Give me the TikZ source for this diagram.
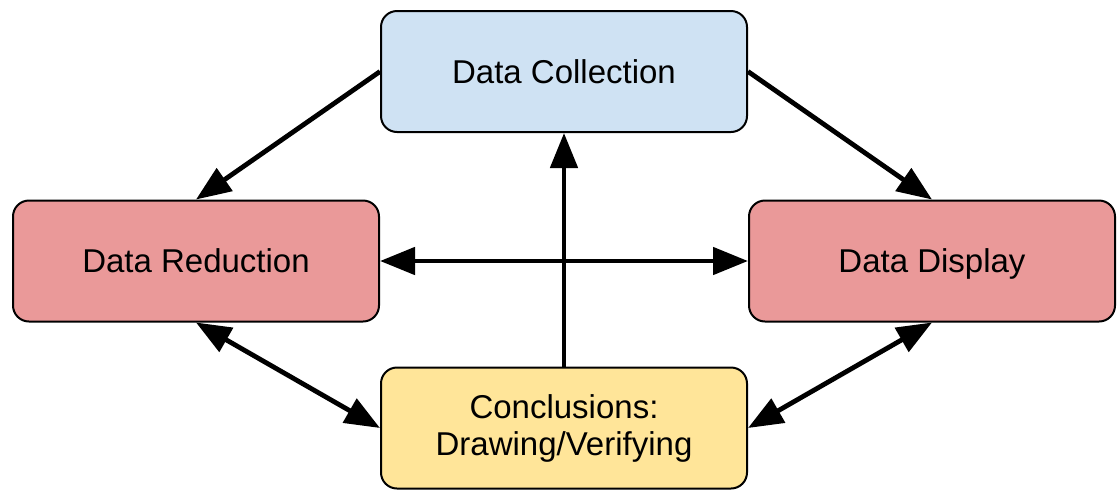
\documentclass[tikz,border=0pt]{standalone}
\usepackage{fontspec}
\setmainfont{Liberation Sans}
\usetikzlibrary{arrows.meta}
\definecolor{collectfill}{HTML}{CFE2F3}
\definecolor{reducefill}{HTML}{EA9999}
\definecolor{concfill}{HTML}{FFE599}
\tikzset{
  stagebox/.style={draw=black, line width=2pt, rounded corners=16pt,
    minimum width=366pt, minimum height=121pt, align=center, inner sep=0pt,
    font=\fontsize{33}{37}\selectfont},
  oneline/.style={text height=27pt, text depth=4pt},
  flow/.style={line width=4.8pt, -{Triangle[length=35pt,width=27pt]}},
  twoway/.style={line width=4.8pt, {Triangle[length=35pt,width=27pt]}-{Triangle[length=35pt,width=27pt]}}
}
\begin{document}
\begin{tikzpicture}[x=1pt,y=-1pt]
  \useasboundingbox (0,0) rectangle (1117,491);
  \node[stagebox, oneline, fill=collectfill] (collect) at (564,71.5) {Data Collection};
  \node[stagebox, oneline, fill=reducefill] (reduce) at (196,261) {Data Reduction};
  \node[stagebox, oneline, fill=reducefill] (display) at (932,261) {Data Display};
  \node[stagebox, fill=concfill] (concl) at (564,428) {Conclusions:\\Drawing/Verifying};

  \draw[flow] (collect.west) -- (reduce.north);
  \draw[flow] (collect.east) -- (display.north);
  \draw[twoway] (reduce.east) -- (display.west);
  \draw[flow] (concl.north) -- (collect.south);
  \draw[twoway] (reduce.south) -- (concl.west);
  \draw[twoway] (display.south) -- (concl.east);
\end{tikzpicture}
\end{document}
